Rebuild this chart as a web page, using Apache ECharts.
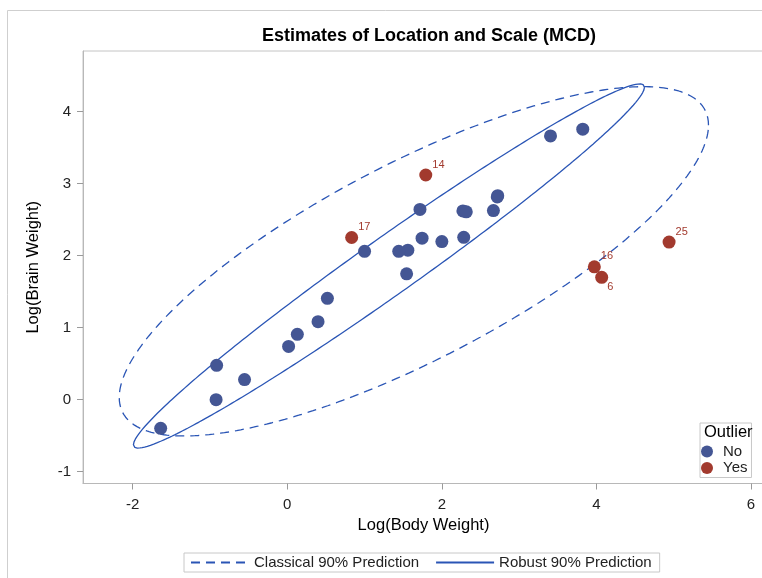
<!DOCTYPE html>
<html>
<head>
<meta charset="utf-8">
<script src="https://cdn.jsdelivr.net/npm/echarts@6/dist/echarts.min.js"></script>
<style>
  html, body { margin: 0; padding: 0; background: #ffffff; }
  #chart { width: 762px; height: 578px; }
</style>
</head>
<body>
<div id="chart"></div>
<script>
// Brain and body weight data, log10 scale, one entry per animal
const animalIds = [1, 2, 3, 4, 5, 6, 7, 8, 9, 10, 11, 12, 13, 14,
                   15, 16, 17, 18, 19, 20, 21, 22, 23, 24, 25, 26, 27, 28];
const logBody = [0.130, 2.667, 1.560, 1.442, 0.017, 4.068, 3.406, 2.272, 2.717, 1.000,
                 0.519, 2.723, 2.316, 1.792, 3.823, 3.973, 0.833, 1.544, -0.921, -1.638,
                 0.398, 1.744, 2.000, 1.717, 4.940, -0.553, -0.914, 2.283];
const logBrain = [0.908, 2.626, 2.077, 2.061, 0.740, 1.699, 3.663, 2.622, 2.816, 2.061,
                  1.408, 2.833, 2.609, 3.121, 3.757, 1.845, 2.253, 1.748, 0.000, -0.398,
                  1.083, 2.243, 2.196, 2.643, 2.189, 0.279, 0.477, 2.255];
// Observations flagged as outliers by the robust distance
const outlierIds = [6, 14, 16, 17, 25];

// Axis ticks
const xTicks = [-2, 0, 2, 4, 6];
const yTicks = [-1, 0, 1, 2, 3, 4];

// Prediction level and robust ellipse radius
const predictionAlpha = 0.10;
const robustRadius = 2.26;

const BLUE = '#445694';
const RED = '#A23A2E';
const LINE = '#2A55B5';
const FONT = '"Liberation Sans", Arial, sans-serif';

// Mean and covariance of a set of points
function moments(xs, ys) {
  const n = xs.length;
  const mx = xs.reduce((a, b) => a + b, 0) / n;
  const my = ys.reduce((a, b) => a + b, 0) / n;
  let sxx = 0, syy = 0, sxy = 0;
  for (let i = 0; i < n; i++) {
    sxx += (xs[i] - mx) * (xs[i] - mx);
    syy += (ys[i] - my) * (ys[i] - my);
    sxy += (xs[i] - mx) * (ys[i] - my);
  }
  return { n, mx, my, sxx: sxx / (n - 1), syy: syy / (n - 1), sxy: sxy / (n - 1) };
}

// Outline of the ellipse (p-m)' S^-1 (p-m) = r^2, via the Cholesky factor of S
function ellipseOutline(m, r, steps) {
  const a = Math.sqrt(m.sxx);
  const b = m.sxy / a;
  const d = Math.sqrt(m.syy - b * b);
  const pts = [];
  for (let k = 0; k <= steps; k++) {
    const t = 2 * Math.PI * k / steps;
    const c = Math.cos(t), s = Math.sin(t);
    pts.push([m.mx + r * a * c, m.my + r * (b * c + d * s)]);
  }
  return pts;
}

// Classical estimate: all observations, F-based prediction radius
const classical = moments(logBody, logBrain);
const nu2 = classical.n - 2;
const fQuant = (nu2 / 2) * (Math.pow(predictionAlpha, -2 / nu2) - 1);
const classicalRadius = Math.sqrt(2 * (classical.n - 1) * (classical.n + 1) /
                                  (classical.n * nu2) * fQuant);

// Robust estimate: reweighted on the non-outlying observations
const keepX = [], keepY = [];
animalIds.forEach((id, i) => {
  if (outlierIds.indexOf(id) < 0) { keepX.push(logBody[i]); keepY.push(logBrain[i]); }
});
const robust = moments(keepX, keepY);

const classicalCurve = ellipseOutline(classical, classicalRadius, 360);
const robustCurve = ellipseOutline(robust, robustRadius, 360);

// Scatter points split by outlier status
const normalPts = [];
const outlierPts = [];
animalIds.forEach((id, i) => {
  if (outlierIds.indexOf(id) >= 0) {
    const below = id === 6;
    outlierPts.push({
      value: [logBody[i], logBrain[i], id],
      label: { offset: below ? [-1, 10] : [0, -10.5] }
    });
  } else {
    normalPts.push([logBody[i], logBrain[i], id]);
  }
});

const chart = echarts.init(document.getElementById('chart'), null, { renderer: 'canvas' });

chart.setOption({
  animation: false,
  backgroundColor: '#ffffff',
  textStyle: { fontFamily: FONT },
  title: {
    text: 'Estimates of Location and Scale (MCD)',
    left: 424,
    textAlign: 'center',
    top: 22,
    textStyle: { fontFamily: FONT, fontSize: 18, fontWeight: 'bold', color: '#000' }
  },
  grid: {
    left: 83, top: 51, right: -2, bottom: 94.5,
    show: true, borderColor: '#c4c4c4', borderWidth: 1,
    outerBoundsMode: 'none'
  },
  xAxis: {
    type: 'value',
    min: -2.643, max: 6.168,
    name: 'Log(Body Weight)',
    nameLocation: 'middle',
    nameGap: 32,
    nameTextStyle: { fontFamily: FONT, fontSize: 16.5, color: '#000' },
    splitLine: { show: false },
    axisLine: { show: true, onZero: false, lineStyle: { color: '#b8b8b8', width: 1 } },
    axisTick: { show: true, length: 6, customValues: xTicks, lineStyle: { color: '#9a9a9a' } },
    axisLabel: { customValues: xTicks, margin: 14, fontFamily: FONT, fontSize: 15, color: '#222' }
  },
  yAxis: {
    type: 'value',
    min: -1.164, max: 4.843,
    name: 'Log(Brain Weight)',
    nameLocation: 'middle',
    nameGap: 41,
    nameRotate: 90,
    nameTextStyle: { fontFamily: FONT, fontSize: 16.5, color: '#000' },
    splitLine: { show: false },
    axisLine: { show: true, onZero: false, lineStyle: { color: '#b8b8b8', width: 1 } },
    axisTick: { show: true, length: 6, customValues: yTicks, lineStyle: { color: '#9a9a9a' } },
    axisLabel: { customValues: yTicks, margin: 12, fontFamily: FONT, fontSize: 15, color: '#222' }
  },
  legend: [
    {
      data: ['Classical 90% Prediction', 'Robust 90% Prediction'],
      left: 184, top: 553,
      orient: 'horizontal',
      itemWidth: 58, itemHeight: 14, itemGap: 16,
      padding: [2, 8, 2, 6],
      borderColor: '#c8c8c8', borderWidth: 1,
      itemStyle: { opacity: 0 },
      textStyle: { fontFamily: FONT, fontSize: 15, color: '#222' }
    },
    {
      data: [
        { name: 'No', icon: 'circle' },
        { name: 'Yes', icon: 'circle' }
      ],
      left: 700, top: 423,
      orient: 'vertical',
      itemWidth: 22, itemHeight: 12, itemGap: 1.5,
      padding: [21, 4, 2, 1],
      borderColor: '#c8c8c8', borderWidth: 1,
      backgroundColor: '#ffffff',
      textStyle: { fontFamily: FONT, fontSize: 15, color: '#222', lineHeight: 15 }
    }
  ],
  graphic: [
    {
      type: 'rect',
      shape: { x: 7.5, y: 10.5, width: 800, height: 600 },
      style: { fill: 'none', stroke: '#cfcfcf', lineWidth: 1 },
      silent: true, z: -10
    },
    {
      type: 'text',
      left: 704, top: 424,
      style: { text: 'Outlier', fontFamily: FONT, fontSize: 16.5, fill: '#000' },
      z: 100
    }
  ],
  series: [
    {
      name: 'Classical 90% Prediction',
      type: 'line',
      data: classicalCurve,
      symbol: 'none',
      smooth: false,
      lineStyle: { color: LINE, width: 1.3, type: [9, 6] },
      itemStyle: { color: LINE },
      z: 2
    },
    {
      name: 'Robust 90% Prediction',
      type: 'line',
      data: robustCurve,
      symbol: 'none',
      smooth: false,
      lineStyle: { color: LINE, width: 1.3, type: 'solid' },
      itemStyle: { color: LINE },
      z: 2
    },
    {
      name: 'No',
      type: 'scatter',
      data: normalPts,
      symbol: 'circle',
      symbolSize: 13,
      itemStyle: { color: BLUE, opacity: 1 },
      z: 3
    },
    {
      name: 'Yes',
      type: 'scatter',
      data: outlierPts,
      symbol: 'circle',
      symbolSize: 13,
      itemStyle: { color: RED, opacity: 1 },
      label: {
        show: true,
        position: 'right',
        distance: 0,
        formatter: (p) => String(p.value[2]),
        fontFamily: FONT,
        fontSize: 11,
        color: RED
      },
      z: 3
    }
  ]
});
</script>
</body>
</html>
